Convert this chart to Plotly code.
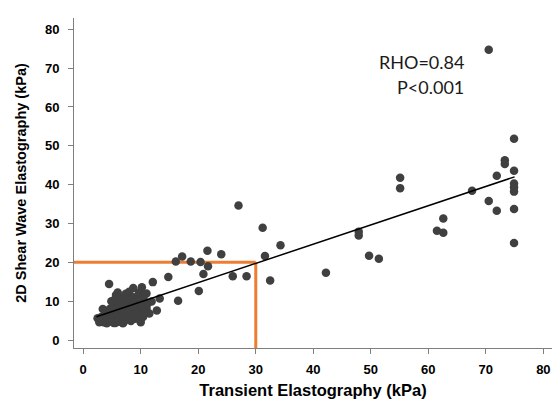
import plotly.graph_objects as go

# Transient elastography (x) vs 2D shear wave elastography (y), kPa
te_kpa = [
    70.5, 74.9, 73.3, 73.3, 74.9, 71.9, 55.1, 74.9, 74.9, 55.1, 67.6, 74.9, 70.5, 27.0,
    74.9, 71.9, 62.6, 31.2, 61.5, 47.9, 62.6, 47.9, 74.9, 34.3, 21.6, 24.0, 49.7, 31.6,
    17.2, 51.4, 16.1, 18.7, 20.4, 21.7, 42.2, 20.9, 26.0, 28.4, 14.8, 32.5, 12.1, 4.5,
    8.7, 10.2, 20.1, 9.9, 5.7, 13.3, 16.5, 11.9, 12.8, 11.0, 8.4,
    2.5, 3.0, 3.2, 3.5, 3.6, 3.8, 4.0, 4.1, 4.3, 4.5, 4.6, 4.8, 5.0, 5.1, 5.2, 5.4, 5.5,
    5.6, 5.8, 5.9, 6.0, 6.2, 6.3, 6.4, 6.5, 6.7, 6.8, 7.0, 7.0, 7.2, 7.3, 7.5, 7.6, 7.8,
    8.0, 8.1, 8.3, 8.4, 8.6, 8.8, 9.0, 9.1, 9.3, 9.5, 9.7, 9.9, 10.2, 10.4, 10.5, 10.8,
    11.0, 11.2, 11.5, 3.4, 4.9, 6.0, 7.4, 2.8, 5.3, 6.9, 8.0, 10.0,
]
swe_kpa = [
    74.7, 51.8, 46.3, 45.3, 43.6, 42.3, 41.8, 40.3, 39.3, 39.1, 38.4, 38.2, 35.8, 34.6,
    33.7, 33.3, 31.3, 28.9, 28.1, 27.9, 27.6, 26.9, 25.0, 24.4, 23.0, 22.1, 21.7, 21.6,
    21.5, 20.9, 20.2, 20.2, 20.1, 19.0, 17.3, 17.0, 16.4, 16.4, 16.2, 15.3, 14.9, 14.4,
    13.4, 13.6, 12.6, 11.6, 11.6, 10.7, 10.1, 9.9, 7.6, 8.2, 10.3,
    5.6, 5.0, 6.0, 4.6, 5.4, 6.5, 7.4, 4.3, 5.8, 6.8, 8.0, 4.8, 5.5, 7.2, 9.0, 6.2, 10.4,
    4.4, 8.3, 5.0, 6.8, 9.6, 11.0, 4.7, 7.6, 5.8, 10.2, 8.8, 4.5, 6.4, 9.6, 5.2, 7.4, 10.8,
    8.4, 6.0, 4.9, 9.2, 7.0, 11.0, 5.5, 8.0, 9.8, 6.5, 12.2, 7.6, 9.0, 5.9, 10.6, 7.2,
    12.0, 9.4, 6.8, 8.0, 10.0, 12.2, 11.9, 4.6, 4.4, 4.3, 12.4, 4.6,
]

# Regression line endpoints
fit_x = [2.3, 75.0]
fit_y = [6.0, 42.0]

# Cut-off values
cutoff_te = 30
cutoff_swe = 20

tick_vals = [0, 10, 20, 30, 40, 50, 60, 70, 80]
x_range = [-1.6, 81.5]
y_range = [-2.06, 82.9]

fig = go.Figure()

fig.add_trace(go.Scatter(
    x=te_kpa, y=swe_kpa, mode="markers",
    marker=dict(color="#404040", size=8.5, line=dict(width=0)),
    showlegend=False, cliponaxis=False,
))

fig.add_trace(go.Scatter(
    x=fit_x, y=fit_y, mode="lines",
    line=dict(color="black", width=1.5),
    showlegend=False,
))

orange = "#ED7D31"
fig.add_shape(type="line", x0=x_range[0], x1=cutoff_te, y0=cutoff_swe, y1=cutoff_swe,
              line=dict(color=orange, width=3), layer="below")
fig.add_shape(type="line", x0=cutoff_te, x1=cutoff_te, y0=cutoff_swe, y1=y_range[0],
              line=dict(color=orange, width=3), layer="below")

ann_font = dict(family="Lato, Open Sans, sans-serif", size=18, color="#1a1a1a")
fig.add_annotation(x=66.6, y=71.6, text="RHO=0.84", showarrow=False,
                   xanchor="right", yanchor="middle", font=ann_font)
fig.add_annotation(x=66.6, y=65.1, text="P<0.001", showarrow=False,
                   xanchor="right", yanchor="middle", font=ann_font)

axis_common = dict(
    showgrid=False, zeroline=False, showline=True, linecolor="#7f7f7f", linewidth=1,
    ticks="outside", ticklen=5, tickcolor="#7f7f7f", tickwidth=1,
    tickvals=tick_vals,
    tickfont=dict(family="Liberation Sans, Arial, sans-serif", size=13, color="black",
                  weight="bold"),
    mirror=False,
)

fig.update_xaxes(
    **axis_common, range=x_range,
    title=dict(text="<b>Transient Elastography (kPa)</b>",
               font=dict(family="Liberation Sans, Arial, sans-serif", size=16.5, color="black"),
               standoff=10),
    ticklabelstandoff=4,
)
fig.update_yaxes(
    **axis_common, range=y_range,
    title=dict(text="<b>2D Shear Wave Elastography (kPa)</b>",
               font=dict(family="Liberation Sans, Arial, sans-serif", size=14.5, color="black"),
               standoff=14),
    ticklabelstandoff=6,
)

fig.update_layout(
    width=559, height=399,
    margin=dict(l=74, r=7, t=18, b=51, autoexpand=False),
    plot_bgcolor="white", paper_bgcolor="white",
)

fig.write_html("out.html")
